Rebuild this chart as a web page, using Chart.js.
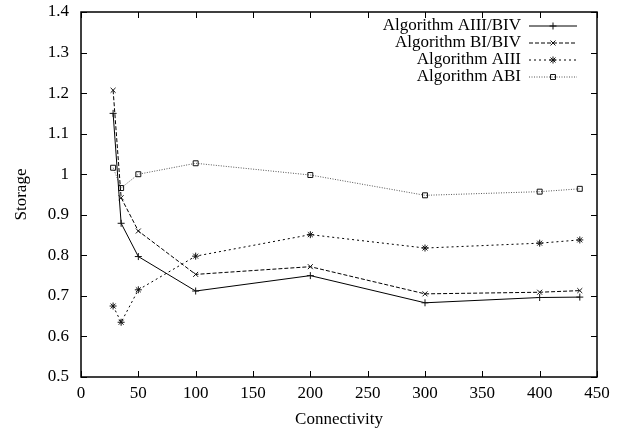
<!DOCTYPE html>
<html>
<head>
<meta charset="utf-8">
<script src="https://cdn.jsdelivr.net/npm/chart.js@4/dist/chart.umd.min.js"></script>
<style>
    html, body { margin: 0; padding: 0; background: #fff; }
    #box { width: 623px; height: 432px; }
</style>
</head>
<body>
<div id="box"><canvas id="myChart"></canvas></div>
<script>
// data
var connectivity = [28, 35, 50, 100, 200, 300, 400, 435];
var algAIIIBIV = [1.15, 0.879, 0.797, 0.712, 0.75, 0.683, 0.696, 0.697];
var algBIBIV = [1.207, 0.942, 0.86, 0.753, 0.772, 0.705, 0.709, 0.713];
var algAIII = [0.675, 0.635, 0.715, 0.798, 0.851, 0.818, 0.83, 0.838];
var algABI = [1.016, 0.966, 1.0, 1.027, 0.998, 0.948, 0.957, 0.964];
var seriesNames = ["Algorithm AIII/BIV", "Algorithm BI/BIV", "Algorithm AIII", "Algorithm ABI"];

var fontFamily = "'Liberation Serif', 'DejaVu Serif', serif";
var fontSize = 17;

function toPoints(values) {
    return values.map(function (v, i) { return { x: connectivity[i], y: v }; });
}

function makeSet(label, values, style, dash, color) {
    return {
        label: label,
        data: toPoints(values),
        borderColor: color,
        backgroundColor: "rgba(0,0,0,0)",
        borderWidth: 1,
        borderDash: dash,
        pointStyle: style,
        pointRadius: 3.5,
        pointBorderColor: "#111",
        pointBorderWidth: 1,
        tension: 0
    };
}

// gnuplot style frame, inward ticks, axis titles and key
var gnuplotLook = {
    id: "gnuplotLook",
    afterDraw: function (chart) {
        var c = chart.ctx;
        var a = chart.chartArea;
        var xs = chart.scales.x;
        var ys = chart.scales.y;
        c.save();
        c.strokeStyle = "#000";
        c.lineWidth = 1;
        c.setLineDash([]);
        xs.ticks.forEach(function (t) {
            var px = Math.round(xs.getPixelForValue(t.value)) + 0.5;
            c.beginPath();
            c.moveTo(px, a.bottom); c.lineTo(px, a.bottom - 6);
            c.moveTo(px, a.top); c.lineTo(px, a.top + 6);
            c.stroke();
        });
        ys.ticks.forEach(function (t) {
            var py = Math.round(ys.getPixelForValue(t.value)) + 0.5;
            c.beginPath();
            c.moveTo(a.left, py); c.lineTo(a.left + 6, py);
            c.moveTo(a.right, py); c.lineTo(a.right - 6, py);
            c.stroke();
        });
        c.lineWidth = 1.5;
        c.strokeRect(a.left, a.top, a.right - a.left, a.bottom - a.top);

        c.fillStyle = "#000";
        c.font = fontSize + "px " + fontFamily;
        c.textAlign = "center";
        c.textBaseline = "middle";
        c.fillText("Connectivity", (a.left + a.right) / 2, 420);
        c.save();
        c.translate(22, (a.top + a.bottom) / 2);
        c.rotate(-Math.PI / 2);
        c.fillText("Storage", 0, 0);
        c.restore();

        // key
        chart.data.datasets.forEach(function (ds, i) {
            var y = 26 + i * 17;
            c.textAlign = "right";
            c.fillStyle = "#000";
            c.fillText(ds.label, 521, y);
            c.strokeStyle = ds.borderColor;
            c.lineWidth = 1;
            c.setLineDash(ds.borderDash);
            c.beginPath();
            c.moveTo(529, y); c.lineTo(577, y);
            c.stroke();
            c.setLineDash([]);
            c.strokeStyle = "#111";
            c.fillStyle = "rgba(0,0,0,0)";
            Chart.helpers.drawPoint(c, {
                pointStyle: ds.pointStyle, radius: 3.5, borderWidth: 1
            }, 553, y);
        });
        c.restore();
    }
};

var ctx = document.getElementById("myChart");
var myChart = new Chart(ctx, {
    type: "line",
    data: {
        datasets: [
            makeSet(seriesNames[0], algAIIIBIV, "cross", [], "#000"),
            makeSet(seriesNames[1], algBIBIV, "crossRot", [4, 2], "#000"),
            makeSet(seriesNames[2], algAIII, "star", [2, 3], "#000"),
            makeSet(seriesNames[3], algABI, "rect", [1, 1.5], "#555")
        ]
    },
    options: {
        responsive: true,
        maintainAspectRatio: false,
        animation: false,
        layout: { padding: { top: 12, right: 26, bottom: 0, left: 0 } },
        plugins: {
            legend: { display: false },
            tooltip: { enabled: false }
        },
        scales: {
            x: {
                type: "linear",
                min: 0, max: 450,
                border: { display: false },
                grid: { display: false, drawTicks: false },
                afterFit: function (s) { s.height = 55; },
                ticks: {
                    stepSize: 50,
                    padding: 6,
                    maxRotation: 0,
                    color: "#000",
                    font: { family: fontFamily, size: fontSize }
                }
            },
            y: {
                min: 0.5, max: 1.4,
                border: { display: false },
                grid: { display: false, drawTicks: false },
                afterFit: function (s) {
                    s.width = 81;
                    s.paddingTop = 0;
                    s.paddingBottom = 0;
                },
                ticks: {
                    stepSize: 0.1,
                    padding: 12,
                    color: "#000",
                    font: { family: fontFamily, size: fontSize },
                    callback: function (v) { return String(+v.toFixed(1)); }
                }
            }
        }
    },
    plugins: [gnuplotLook]
});
</script>
</body>
</html>
